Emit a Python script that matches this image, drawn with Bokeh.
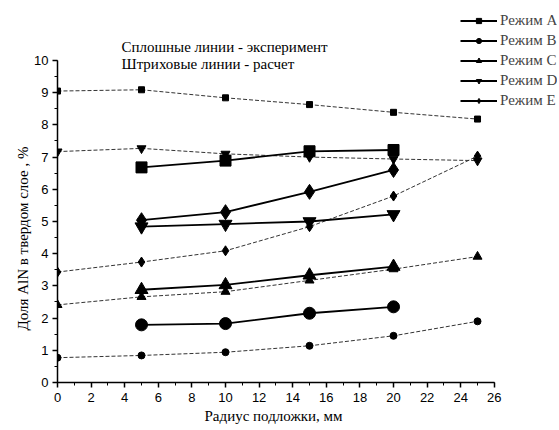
from bokeh.plotting import figure
from bokeh.models import (Range1d, SingleIntervalTicker, Legend, LegendItem, Label, Title)
from bokeh.embed import file_html
from bokeh.resources import INLINE

# Radius positions, mm
r_exp = [5, 10, 15, 20]
r_calc = [0, 5, 10, 15, 20, 25]

# AlN fraction in the solid layer, % (experiment - solid lines)
exp_A = [6.68, 6.89, 7.18, 7.22]
exp_B = [1.79, 1.83, 2.15, 2.35]
exp_C = [2.88, 3.03, 3.33, 3.60]
exp_D = [4.84, 4.92, 5.00, 5.22]
exp_E = [5.04, 5.29, 5.92, 6.60]

# AlN fraction in the solid layer, % (calculation - dashed lines)
calc_A = [9.05, 9.09, 8.84, 8.63, 8.39, 8.18]
calc_B = [0.77, 0.84, 0.94, 1.14, 1.45, 1.90]
calc_C = [2.41, 2.66, 2.82, 3.17, 3.52, 3.91]
calc_D = [7.17, 7.27, 7.10, 7.00, 6.94, 6.89]
calc_E = [3.43, 3.74, 4.09, 4.84, 5.79, 7.03]

modes = ["Режим A", "Режим B", "Режим C", "Режим D", "Режим E"]
markers = ["square", "circle", "triangle", "inverted_triangle", "diamond"]
exp_sizes = [11, 12, 13, 13, 15]
calc_sizes = [6, 7, 9, 9, 10]
exp_series = [exp_A, exp_B, exp_C, exp_D, exp_E]
calc_series = [calc_A, calc_B, calc_C, calc_D, calc_E]

SERIF = "Liberation Serif"
SANS = "Liberation Sans"

# The frame reaches past the axes' ends (top and right) so that the legend and
# the notes, which sit outside the 0..26 x 0..10 box, are not clipped.
p = figure(width=559, height=430, output_backend="svg", toolbar_location=None,
           x_range=Range1d(0, 29.76), y_range=Range1d(0, 11.80),
           min_border_left=57, min_border_right=2, min_border_top=2,
           min_border_bottom=48)
p.outline_line_color = None
p.xgrid.visible = False
p.ygrid.visible = False
p.background_fill_color = "white"
p.border_fill_color = "white"

# Calculated curves (dashed, small markers)
calc_markers = []
for y, mk, sz in zip(calc_series, markers, calc_sizes):
    p.line(r_calc, y, line_color="#333333", line_width=1, line_dash="4 2")
    calc_markers.append(
        p.scatter(r_calc, y, marker=mk, size=sz, fill_color="black", line_color="black"))

# Experimental curves (solid, large markers)
items = []
for name, y, mk, sz, cm in zip(modes, exp_series, markers, exp_sizes, calc_markers):
    ln = p.line(r_exp, y, line_color="black", line_width=1.8)
    p.scatter(r_exp, y, marker=mk, size=sz, fill_color="black", line_color="black")
    # legend entry: solid line with the small marker
    items.append(LegendItem(label=name, renderers=[ln, cm]))

legend = Legend(items=items, location=(403, 272), orientation="vertical",
                glyph_width=37, glyph_height=13, label_height=20, spacing=0,
                padding=0, margin=0, label_standoff=3,
                label_text_font=SERIF, label_text_font_size="15px",
                background_fill_alpha=0, border_line_color=None)
p.add_layout(legend, "center")

# Axes
for ax in (p.xaxis, p.yaxis):
    ax.axis_line_width = 1.5
    ax.major_tick_line_width = 1.5
    ax.minor_tick_line_width = 1
    ax.major_tick_out = 5
    ax.major_tick_in = 0
    ax.minor_tick_out = 3
    ax.minor_tick_in = 0
    ax.major_label_text_font = SANS
    ax.major_label_text_font_size = "13px"
    ax.major_label_text_color = "black"

p.xaxis.bounds = (0, 26)
p.yaxis.bounds = (0, 10)
p.xaxis.ticker = SingleIntervalTicker(interval=2, num_minor_ticks=2)
p.yaxis.ticker = SingleIntervalTicker(interval=1, num_minor_ticks=2)
p.xaxis.major_label_standoff = 5
p.yaxis.major_label_standoff = 4

# Axis titles
xtitle = Title(text="Радиус подложки, мм", align="left", offset=147,
               text_font=SERIF, text_font_size="15px", text_font_style="normal",
               text_color="black", standoff=2)
p.add_layout(xtitle, "below")
ytitle = Title(text="Доля AlN в твердом слое , %", align="left", offset=52,
               text_font=SERIF, text_font_size="15px", text_font_style="normal",
               text_color="black", standoff=2)
p.add_layout(ytitle, "left")

# Notes on the line styles
note1 = Label(x=64, y=336, x_units="screen", y_units="screen",
              text="Сплошные линии - эксперимент", text_font=SERIF,
              text_font_size="15px", text_baseline="alphabetic", text_color="black")
note2 = Label(x=64, y=318.5, x_units="screen", y_units="screen",
              text="Штриховые линии - расчет", text_font=SERIF,
              text_font_size="15px", text_baseline="alphabetic", text_color="black")
p.add_layout(note1)
p.add_layout(note2)

open("out.html", "w").write(file_html(p, INLINE))
